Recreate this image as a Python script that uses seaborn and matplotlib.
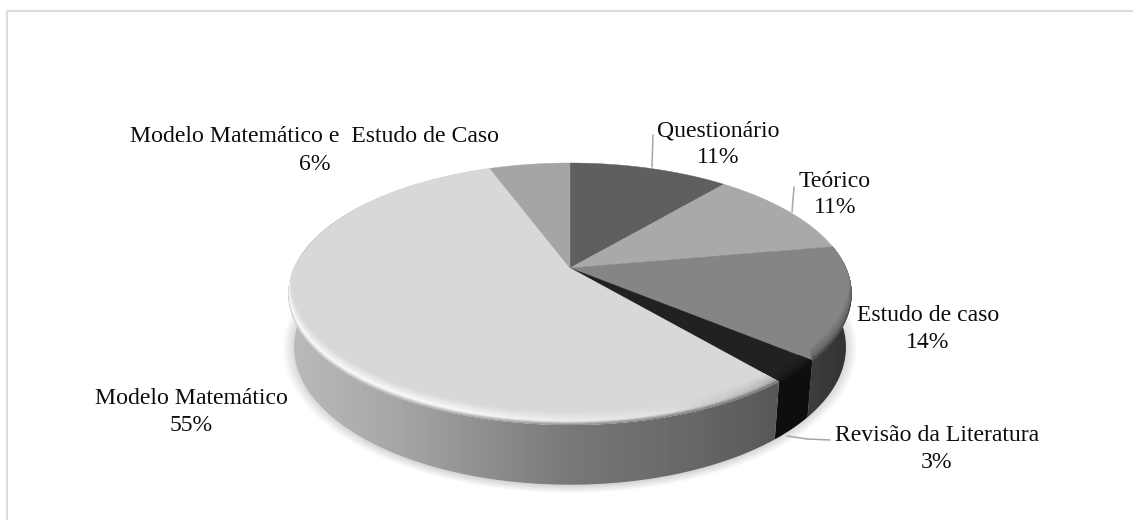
import numpy as np
import matplotlib
matplotlib.use('Agg')
import matplotlib.pyplot as plt
import seaborn as sns
from matplotlib.collections import LineCollection
from matplotlib.patches import Polygon

# chart values
categories = ['Questionário', 'Teórico', 'Estudo de caso', 'Revisão da Literatura',
              'Modelo Matemático', 'Modelo Matemático e  Estudo de Caso']
shares = [11, 11, 14, 3, 55, 6]
# slice sizes as measured on the picture, the printed labels are rounded
slice_sizes = [11.1, 11.1, 13.9, 2.8, 55.5, 5.6]
face_colors = ['#5f5f5f', '#a9a9a9', '#858585', '#212121', '#d8d8d8', '#a5a5a5']

# label anchors: x centre, baseline of first line, baseline of second line
label_x = [718, 835, 928, 937, 191, 315]
label_y1 = [137, 187, 321, 441, 404, 142]
label_y2 = [163, 213, 348, 468, 431, 170]

sns.set_theme(style='white')
plt.rcParams['font.family'] = ['Liberation Serif', 'DejaVu Serif']

# perspective of the disc, in pixels around the apex of the slices
APEX_X, APEX_Y = 570, 268
RAD_X, RAD_Y, PERSP = 276, 125.8, 0.198


# Function to project an angle on the disc (clockwise from 12 o'clock) to the picture
def project(theta_deg, radius=1.0):
    t = np.radians(theta_deg)
    u, v = radius * np.sin(t), radius * np.cos(t)
    w = 1 + PERSP * v
    return APEX_X + RAD_X * u / w, APEX_Y - RAD_Y * v / w


# Same thing for the lower edge of the disc
def project_bottom(theta_deg):
    x, y = project(theta_deg)
    return APEX_X + (x - APEX_X) * 0.98, APEX_Y + (y - APEX_Y) * 1.05 + 52


def side_shade(x):
    return np.interp(x, [290, 400, 570, 700, 775], [186, 165, 120, 102, 88])


fig = plt.figure(figsize=(11.33, 5.2), dpi=100)
ax = fig.add_axes([0, 0, 1, 1])
ax.set_axis_off()

edges = np.cumsum([0] + slice_sizes) / sum(slice_sizes) * 360
palette = sns.color_palette(face_colors)

# soft shadow under the disc
all_angles = np.linspace(0, 360, 361)
bx, by = project_bottom(all_angles)
for grow in np.linspace(1.05, 1.0, 12):
    ax.fill(APEX_X + (bx - APEX_X) * (grow - 0.01), 318 + (by - 318) * grow,
            color='black', alpha=0.015, lw=0, zorder=1)

# side wall, only the front of each slice
side_ranges = [(edges[2], edges[3]), (edges[3], edges[4]), (edges[4], 270)]
for idx, (start, stop) in zip([2, 3, 4], side_ranges):
    start = max(start, 90)
    ang = np.linspace(start, stop, 80)
    tx, ty = project(ang)
    lx, ly = project_bottom(ang)
    poly = np.column_stack([np.r_[tx, lx[::-1]], np.r_[ty, ly[::-1]]])
    xs = np.arange(280, 860)
    if idx == 2:
        shade = np.interp(xs, [770, 850], [72, 50])
    elif idx == 3:
        shade = np.full(xs.shape, 14.0)
    else:
        shade = side_shade(xs)
    im = ax.imshow(shade[np.newaxis, :], extent=(280, 860, 500, 250), aspect='auto',
                   cmap='gray', vmin=0, vmax=255, zorder=2)
    im.set_clip_path(Polygon(poly, closed=True, transform=ax.transData))

# top face of the slices, with a bevel along the front rim clipped to each slice
bevel_base = [95, 169, 133, 33, 216, 165]
bevel_steps = np.linspace(0, 1, 28)
for i in range(len(shares)):
    ang = np.linspace(edges[i], edges[i + 1], 120)
    x, y = project(ang)
    ax.fill(np.r_[APEX_X, x], np.r_[APEX_Y, y], color=palette[i], lw=0.3, zorder=3)
    if edges[i + 1] < 80 or edges[i] > 310:
        continue
    slice_clip = Polygon(np.column_stack([np.r_[APEX_X, x], np.r_[APEX_Y, y]]),
                         closed=True, transform=ax.transData)
    base = bevel_base[i]
    for t in bevel_steps:
        segs, cols = [], []
        rx, ry = project(ang, 1 - 0.012 * t)
        ry = ry - 12 * t
        for j in range(len(ang) - 1):
            th = ang[j]
            fade = np.clip((th - 88) / 15, 0, 1) * np.clip((305 - th) / 30, 0, 1)
            if i == 4:
                peak = np.interp(th, [140, 165, 200, 300], [175, 228, 250, 250])
                outer = side_shade(rx[j]) + 10
            elif i == 2:
                peak, outer = 105, 62
            elif i == 3:
                peak, outer = 28, 16
            else:
                peak, outer = base, base
            peak = base + (peak - base) * fade
            outer = base + (outer - base) * fade
            if t < 0.3:
                val = outer + (peak - outer) * t / 0.3
            else:
                val = peak + (base - peak) * (t - 0.3) / 0.7
            segs.append([(rx[j], ry[j]), (rx[j + 1], ry[j + 1])])
            cols.append(str(val / 255))
        lines = LineCollection(segs, colors=cols, linewidths=0.9, zorder=4)
        ax.add_collection(lines)
        lines.set_clip_path(slice_clip)

# leader lines
leader = dict(color='#a6a6a6', lw=1.1, zorder=5)
ax.plot([653, 652], [135, 167], **leader)
ax.plot([794, 792], [187, 212], **leader)
ax.plot([787, 807, 830], [436, 439, 440], **leader)

# category labels
for name, share, lx_, y1, y2 in zip(categories, shares, label_x, label_y1, label_y2):
    ax.text(lx_, y1, name, ha='center', va='baseline', fontsize=17.1, color='#0d0d0d', zorder=6)
    ax.text(lx_, y2, f'{share}%', ha='center', va='baseline', fontsize=17.1, color='#0d0d0d', zorder=6)

# only the top and left sides of the chart border are in the picture
ax.plot([7, 7, 1133], [520, 11, 11], color='#dcdcdc', lw=1.5, zorder=6)

ax.set_xlim(0, 1133)
ax.set_ylim(520, 0)
fig.savefig('out.png', dpi=100, facecolor='white')
